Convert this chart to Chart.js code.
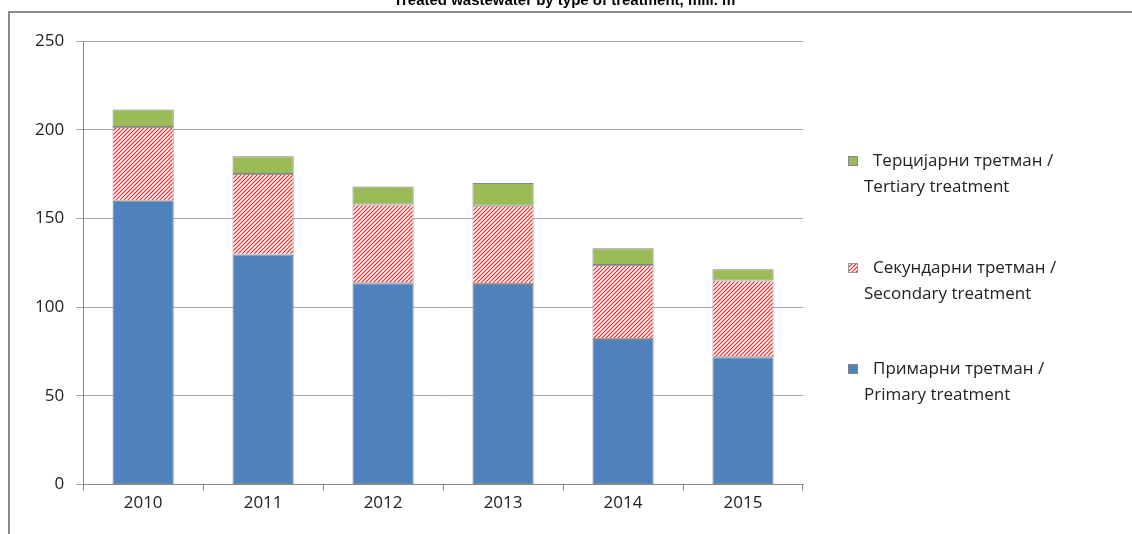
<!DOCTYPE html>
<html>
<head>
<meta charset="utf-8">
<script src="https://cdn.jsdelivr.net/npm/chart.js@4"></script>
<style>
  html, body { margin: 0; padding: 0; background: #fff; }
  #wrap { width: 1132px; height: 534px; position: relative; }
</style>
</head>
<body>
<div id="wrap"><canvas id="chart"></canvas></div>
<script>
const years = ['2010', '2011', '2012', '2013', '2014', '2015'];
const primary = [160, 129.7, 113.5, 113, 82, 71.8];
const secondary = [41.6, 45.4, 44.4, 44.1, 41.7, 43.2];
const tertiary = [9.8, 10, 10.1, 12.9, 9.5, 6.4];
const yTicks = [0, 50, 100, 150, 200, 250];
const titleText = 'Treated wastewater by type of treatment, mill. m\u00b3';
const legendLines = [
    ['Терцијарни третман /', 'Tertiary treatment'],
    ['Секундарни третман /', 'Secondary treatment'],
    ['Примарни третман /', 'Primary treatment']
];

const FONT = '"Open Sans", "Noto Sans", sans-serif';

// red diagonal hatch on white, lines every 4px
function makeHatch() {
    const c = document.createElement('canvas');
    c.width = 12; c.height = 12;
    const g = c.getContext('2d');
    g.fillStyle = '#fff';
    g.fillRect(0, 0, 12, 12);
    g.strokeStyle = '#e8262a';
    g.lineWidth = 1.2;
    g.beginPath();
    for (let k = 0; k <= 24; k += 4) {
        g.moveTo(k - 13, 13);
        g.lineTo(k + 1, -1);
    }
    g.stroke();
    return g.createPattern(c, 'repeat');
}

const hatch = makeHatch();

// frame, cut-off title and the two-line legend
const decor = {
    id: 'decor',
    beforeDraw(chart) {
        const ctx = chart.ctx;
        ctx.save();
        ctx.strokeStyle = '#8a8a8a';
        ctx.lineWidth = 2;
        ctx.strokeRect(9, 12, 1200, 600);
        ctx.restore();
    },
    afterDraw(chart) {
        const ctx = chart.ctx;
        ctx.save();
        ctx.fillStyle = '#000';
        ctx.font = 'bold 15px "Liberation Sans Narrow", "Liberation Sans", Arial, sans-serif';
        ctx.textAlign = 'center';
        ctx.textBaseline = 'alphabetic';
        ctx.fillText(titleText, 567, 5);

        const order = [2, 1, 0];
        const tops = [161, 268, 369];
        ctx.font = '17px ' + FONT;
        ctx.textAlign = 'left';
        ctx.textBaseline = 'middle';
        order.forEach((di, i) => {
            const ds = chart.data.datasets[di];
            const y = tops[i];
            ctx.fillStyle = ds.backgroundColor;
            ctx.fillRect(848, y - 5, 10, 10);
            ctx.strokeStyle = ds.borderColor;
            ctx.lineWidth = 1;
            ctx.strokeRect(848.5, y - 4.5, 9, 9);
            ctx.fillStyle = '#222';
            const lines = legendLines[i];
            ctx.fillText(lines[0], 873, y);
            ctx.fillText(lines[1], 864, y + 26);
        });
        ctx.restore();
    }
};

new Chart(document.getElementById('chart'), {
    type: 'bar',
    data: {
        labels: years,
        datasets: [
            { label: legendLines[2].join(' '), data: primary, backgroundColor: '#4f81bd', borderColor: '#858585', borderWidth: 1, borderSkipped: false },
            { label: legendLines[1].join(' '), data: secondary, backgroundColor: hatch, borderColor: '#9a9a9a', borderWidth: 1, borderSkipped: false },
            { label: legendLines[0].join(' '), data: tertiary, backgroundColor: '#9bbb59', borderColor: '#858585', borderWidth: 1, borderSkipped: false }
        ]
    },
    options: {
        responsive: true,
        maintainAspectRatio: false,
        animation: false,
        devicePixelRatio: 1,
        layout: {
            padding: { left: 23, right: 329, top: 41, bottom: 19 }
        },
        datasets: {
            bar: { barPercentage: 0.51, categoryPercentage: 1 }
        },
        plugins: {
            legend: { display: false },
            title: { display: false },
            tooltip: { enabled: false }
        },
        scales: {
            x: {
                stacked: true,
                grid: { drawOnChartArea: false, drawTicks: true, tickLength: 6, color: '#8a8a8a' },
                border: { color: '#8a8a8a' },
                ticks: { color: '#222', font: { family: FONT, size: 17 }, padding: 2 }
            },
            y: {
                stacked: true,
                min: 0,
                max: 250,
                afterBuildTicks(axis) { axis.ticks = yTicks.map(v => ({ value: v })); },
                grid: { color: '#a6a6a6', tickLength: 7 },
                border: { color: '#8a8a8a' },
                ticks: { color: '#222', font: { family: FONT, size: 17 }, padding: 12 }
            }
        }
    },
    plugins: [decor]
});
</script>
</body>
</html>
